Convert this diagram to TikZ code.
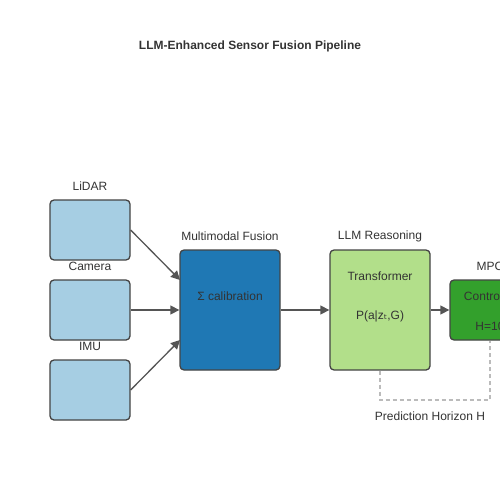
\documentclass[tikz,border=0pt]{standalone}
\usepackage{fontspec}
\setmainfont{Liberation Sans}
\newfontfamily\symfont{DejaVu Sans}
\usetikzlibrary{arrows.meta,positioning}
\definecolor{lblue}{HTML}{A6CEE3}
\definecolor{dblue}{HTML}{1F78B4}
\definecolor{lgreen}{HTML}{B2DF8A}
\definecolor{dgreen}{HTML}{33A02C}
\definecolor{edge}{HTML}{444444}
\definecolor{txt}{HTML}{333333}
\definecolor{arr}{HTML}{555555}
\definecolor{dash}{HTML}{BBBBBB}
\begin{document}
\begin{tikzpicture}[x=1pt,y=-1pt,
  box/.style={draw=edge,line width=1.3pt,rounded corners=4pt,inner sep=0pt},
  lab/.style={text=txt,font=\fontsize{12}{14}\selectfont,inner sep=0pt,anchor=center},
  conn/.style={draw=arr,line width=1.3pt,-{Triangle[length=9pt,width=9pt]}},
  horizon/.style={draw=dash,line width=1.2pt,dash pattern=on 4pt off 3pt}]
\useasboundingbox (0,0) rectangle (500,500);
\begin{scope}
\clip (0,0) rectangle (500,500);
\node[lab,font=\bfseries\fontsize{12}{14}\selectfont] (title) at (250,46) {LLM-Enhanced Sensor Fusion Pipeline};
% sensor boxes
\node[box,fill=lblue,minimum width=80pt,minimum height=60pt] (lidar) at (90,230) {};
\node[box,fill=lblue,minimum width=80pt,minimum height=60pt] (camera) at (90,310) {};
\node[box,fill=lblue,minimum width=80pt,minimum height=60pt] (imu) at (90,390) {};
\node[lab] (lidarl) at (90,186) {LiDAR};
\node[lab] (cameral) at (90,266) {Camera};
\node[lab] (imul) at (90,346) {IMU};
% fusion
\node[box,fill=dblue,minimum width=100pt,minimum height=120pt] (fusion) at (230,310) {};
\node[lab] (fusionl) at (230,236) {Multimodal Fusion};
\node[lab] (fusiont) at (230,296) {Σ calibration};
% LLM
\node[box,fill=lgreen,minimum width=100pt,minimum height=120pt] (llm) at (380,310) {};
\node[lab] (llml) at (380,236) {LLM Reasoning};
\node[lab] (llmt1) at (380,276) {Transformer};
\node[lab] (llmt2) at (380,316) {P(a|z{\symfont ₜ},G)};
% MPC
\node[box,fill=dgreen,minimum width=80pt,minimum height=60pt] (mpc) at (490,310) {};
\node[lab] (mpcl) at (490,266) {MPC};
\node[lab] (mpct1) at (490,296) {Controller};
\node[lab] (mpct2) at (490,326) {H=10};
% connectors
\coordinate (fin1) at (180,280);
\coordinate (fin3) at (180,340);
\draw[conn] (lidar.east) -- (fin1);
\draw[conn] (camera.east) -- (fusion.west);
\draw[conn] (imu.east) -- (fin3);
\draw[conn] (fusion.east) -- (llm.west);
\draw[conn] (llm.east) -- (mpc.west);
% horizon
\coordinate (h1) at (380,400);
\coordinate (h2) at (490,400);
\draw[horizon] (llm.south) -- (h1) -- (h2) -- (mpc.south);
\node[lab] (hl) at (430,416) {Prediction Horizon H};
\end{scope}
\end{tikzpicture}
\end{document}
